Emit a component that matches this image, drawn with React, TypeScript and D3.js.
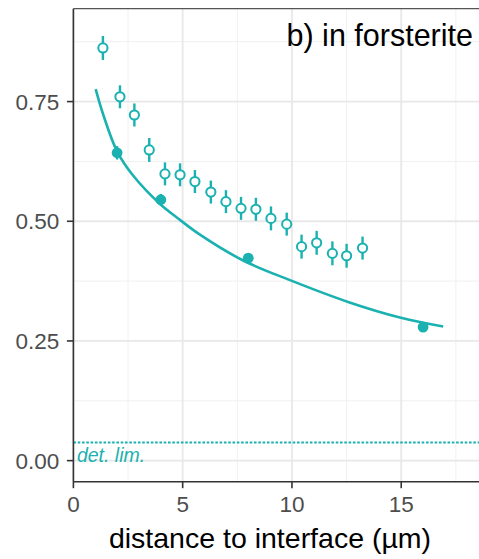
import React from "react";
import * as d3 from "d3";

// open symbols: measured points
const openX = [1.35, 2.13, 2.79, 3.47, 4.19, 4.88, 5.56, 6.29, 6.98, 7.67, 8.35, 9.04, 9.76, 10.44, 11.13, 11.85, 12.5, 13.23];
const openY = [0.862, 0.76, 0.722, 0.649, 0.599, 0.597, 0.583, 0.561, 0.541, 0.527, 0.525, 0.506, 0.494, 0.447, 0.455, 0.433, 0.428, 0.444];
const openErr = [0.025, 0.024, 0.024, 0.025, 0.024, 0.024, 0.024, 0.024, 0.024, 0.024, 0.024, 0.025, 0.024, 0.025, 0.025, 0.025, 0.025, 0.024];

// filled symbols
const fillX = [2, 4, 8, 16];
const fillY = [0.643, 0.545, 0.423, 0.279];
const fillErr = [0.014, 0.012, 0.01, 0.01];

// fitted curve
const fitX = [1.02, 1.37, 2.01, 2.74, 3.99, 4.73, 5.79, 7.77, 9.91, 12.6, 14.94, 16.92];
const fitY = [0.776, 0.722, 0.645, 0.595, 0.535, 0.508, 0.472, 0.418, 0.377, 0.331, 0.299, 0.28];

const detLim = 0.038;
const xTicks = [0, 5, 10, 15];
const xMinor = [2.5, 7.5, 12.5, 17.5];
const yTicks = [0, 0.25, 0.5, 0.75];
const yMinor = [0.125, 0.375, 0.625, 0.875];

const teal = "#1bb1b1";
const font = "'Liberation Sans', Arial, sans-serif";

export default function App() {
  const width = 479;
  const height = 559;
  const left = 73.4;
  const right = 481;
  const top = 8.7;
  const bottom = 481.7;

  const x = d3.scaleLinear().domain([0, 18.65]).range([left, right]);
  const y = d3.scaleLinear().domain([-0.044, 0.944]).range([bottom, top]);

  const fitLine = d3
    .line<number>()
    .x((d, i) => x(fitX[i]))
    .y((d) => y(d))
    .curve(d3.curveCatmullRom.alpha(0.5));

  return (
    <svg
      width={width}
      height={height}
      style={{ position: "absolute", left: 0, top: 0, background: "#fff" }}
      fontFamily={font}
    >
      <rect x={left} y={top} width={right - left} height={bottom - top} fill="#fff" />
      {/* grid */}
      {yMinor.map((t) => (
        <line key={"ym" + t} x1={left} x2={right} y1={y(t)} y2={y(t)} stroke="#f0f0f0" strokeWidth={1} />
      ))}
      {xMinor.map((t) => (
        <line key={"xm" + t} x1={x(t)} x2={x(t)} y1={top} y2={bottom} stroke="#f0f0f0" strokeWidth={1} />
      ))}
      {yTicks.map((t) => (
        <line key={"yg" + t} x1={left} x2={right} y1={y(t)} y2={y(t)} stroke="#e8e8e8" strokeWidth={1.8} />
      ))}
      {xTicks.map((t) => (
        <line key={"xg" + t} x1={x(t)} x2={x(t)} y1={top} y2={bottom} stroke="#e8e8e8" strokeWidth={1.8} />
      ))}

      {/* detection limit */}
      <line
        x1={left}
        x2={right}
        y1={y(detLim)}
        y2={y(detLim)}
        stroke={teal}
        strokeWidth={2}
        strokeDasharray="2.6,1.7"
      />
      <text x={left + 3.5} y={y(detLim) + 20} fill={teal} fontSize={19.5} fontStyle="italic">
        det. lim.
      </text>

      {/* fit */}
      <path d={fitLine(fitY) || ""} fill="none" stroke={teal} strokeWidth={2.6} />

      {/* filled points */}
      {fillX.map((v, i) => (
        <g key={"f" + i}>
          <line x1={x(v)} x2={x(v)} y1={y(fillY[i] - fillErr[i])} y2={y(fillY[i] + fillErr[i])} stroke={teal} strokeWidth={2.4} />
          <circle cx={x(v)} cy={y(fillY[i])} r={5.4} fill={teal} />
        </g>
      ))}

      {/* open points */}
      {openX.map((v, i) => (
        <g key={"o" + i}>
          <line x1={x(v)} x2={x(v)} y1={y(openY[i] - openErr[i])} y2={y(openY[i] + openErr[i])} stroke={teal} strokeWidth={2.4} />
          <circle cx={x(v)} cy={y(openY[i])} r={4.6} fill="#fff" stroke={teal} strokeWidth={2} />
        </g>
      ))}

      {/* panel border top */}
      <line x1={left} x2={right} y1={top} y2={top} stroke="#555" strokeWidth={1.2} />

      {/* axes */}
      <line x1={left} x2={left} y1={top} y2={bottom} stroke="#333" strokeWidth={1.6} />
      <line x1={left} x2={right} y1={bottom} y2={bottom} stroke="#333" strokeWidth={1.6} />
      {yTicks.map((t) => (
        <g key={"yt" + t}>
          <line x1={left - 6.5} x2={left} y1={y(t)} y2={y(t)} stroke="#333" strokeWidth={1.6} />
          <text x={left - 14} y={y(t)} dy="0.36em" textAnchor="end" fontSize={22.5} fill="#4d4d4d">
            {d3.format(".2f")(t)}
          </text>
        </g>
      ))}
      {xTicks.map((t) => (
        <g key={"xt" + t}>
          <line x1={x(t)} x2={x(t)} y1={bottom} y2={bottom + 6.5} stroke="#333" strokeWidth={1.6} />
          <text x={x(t)} y={bottom + 30.5} textAnchor="middle" fontSize={22.5} fill="#4d4d4d">
            {t}
          </text>
        </g>
      ))}

      {/* titles */}
      <text x={270} y={548} textAnchor="middle" fontSize={28.5} fill="#000">
        distance to interface (µm)
      </text>
      <text x={473} y={46} textAnchor="end" fontSize={30.5} fill="#000">
        b) in forsterite
      </text>
    </svg>
  );
}
